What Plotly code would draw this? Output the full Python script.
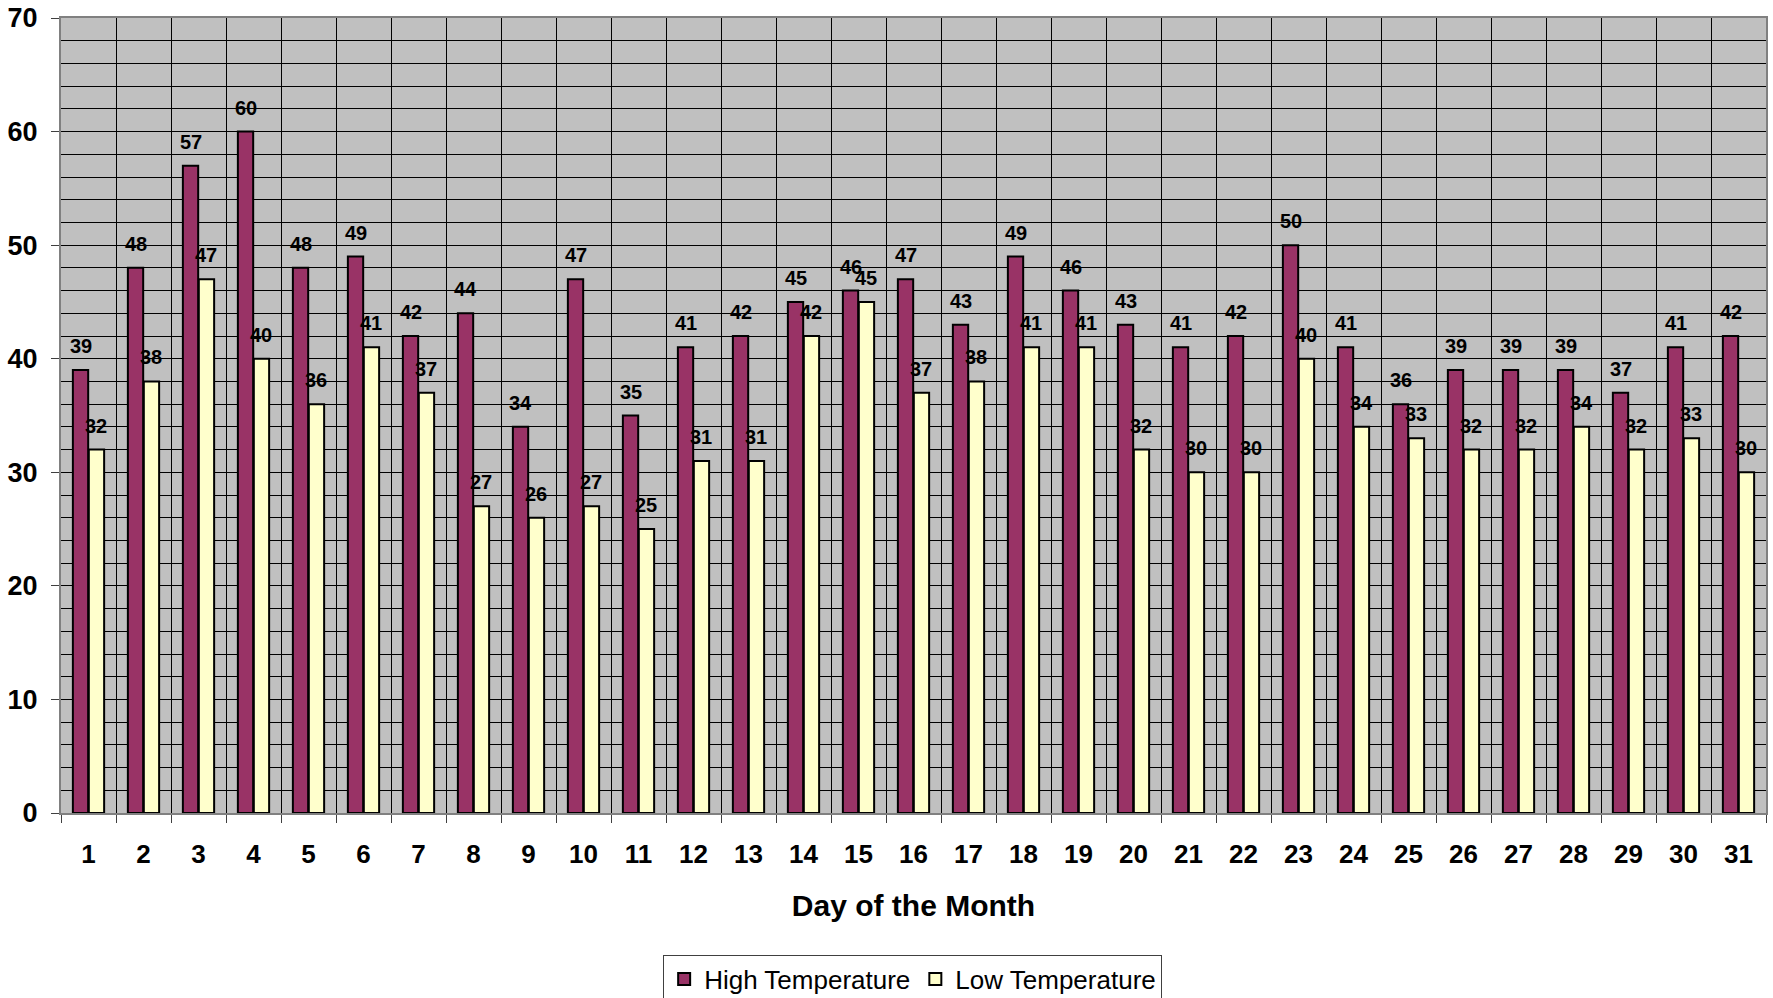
import plotly.graph_objects as go

days = list(range(1, 32))
high_temp = [39, 48, 57, 60, 48, 49, 42, 44, 34, 47, 35, 41, 42, 45, 46, 47, 43, 49, 46, 43,
             41, 42, 50, 41, 36, 39, 39, 39, 37, 41, 42]
low_temp = [32, 38, 47, 40, 36, 41, 37, 27, 26, 27, 25, 31, 31, 42, 45, 37, 38, 41, 41, 32,
            30, 30, 40, 34, 33, 32, 32, 34, 32, 33, 30]
series_names = ["High Temperature", "Low Temperature"]
x_title = "Day of the Month"

FONT = "Liberation Sans, Arial, sans-serif"
BARGAP = 0.42
HALF = (1 - BARGAP) / 4  # offset of each bar centre from the category centre

fig = go.Figure()
fig.add_trace(go.Bar(x=days, y=high_temp, name=series_names[0],
                     marker=dict(color="#993366", line=dict(color="black", width=2))))
fig.add_trace(go.Bar(x=days, y=low_temp, name=series_names[1],
                     marker=dict(color="#FFFFCC", line=dict(color="black", width=2))))

annotations = []
for d, h, l in zip(days, high_temp, low_temp):
    for xv, yv in ((d - HALF, h), (d + HALF, l)):
        annotations.append(dict(x=xv, y=yv, text=f"<b>{yv}</b>", showarrow=False,
                                xref="x", yref="y", yanchor="bottom", yshift=11,
                                font=dict(family=FONT, size=20, color="black")))

fig.update_layout(
    width=1773, height=998,
    barmode="group", bargap=BARGAP, bargroupgap=0.04,
    paper_bgcolor="white", plot_bgcolor="#C0C0C0",
    margin=dict(l=61, r=7, t=18, b=185, autoexpand=False),
    font=dict(family=FONT, color="black"),
    annotations=annotations,
    showlegend=True,
    legend=dict(orientation="h", x=0.4995, xanchor="center", y=-0.178, yanchor="top",
                bordercolor="#404040", borderwidth=1, bgcolor="white",
                font=dict(family=FONT, size=26, color="black"),
                itemsizing="constant", tracegroupgap=0),
    xaxis=dict(
        range=[0.5, 31.5], tickmode="array", tickvals=days, ticktext=[str(d) for d in days],
        showgrid=False, ticks="outside", ticklen=17, tickcolor="rgba(0,0,0,0)",
        tickfont=dict(family=FONT, size=26, color="black", weight="bold"),
        showline=True, linecolor="#808080", linewidth=2, mirror=True, zeroline=False,
        automargin=False,
        minor=dict(tick0=0.5, dtick=1, showgrid=True, gridcolor="black", gridwidth=1,
                   ticks="outside", ticklen=8, tickcolor="#404040", tickwidth=1),
        title=dict(text=f"<b>{x_title}</b>", font=dict(family=FONT, size=30, color="black"),
                   standoff=27),
    ),
    yaxis=dict(
        range=[0, 70], dtick=10, tick0=0,
        showgrid=True, gridcolor="black", gridwidth=1,
        ticks="outside", ticklen=8, tickcolor="#404040", tickwidth=1,
        ticklabelstandoff=8, automargin=False,
        tickfont=dict(family=FONT, size=27, color="black", weight="bold"),
        showline=True, linecolor="#808080", linewidth=2, mirror=True, zeroline=False,
        minor=dict(dtick=2, showgrid=True, gridcolor="black", gridwidth=1),
    ),
)

fig.write_html("out.html", config={"displayModeBar": False},
               post_script="document.body.style.margin='0';document.body.style.overflow='hidden';")
